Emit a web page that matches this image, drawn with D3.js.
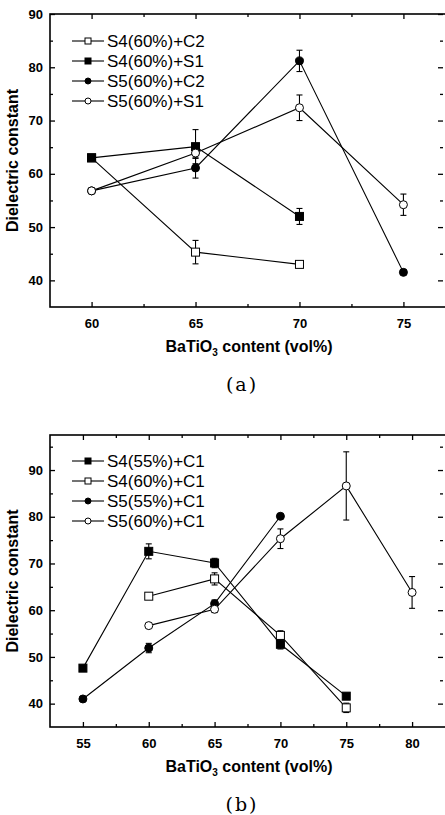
<!DOCTYPE html>
<html>
<head>
<meta charset="utf-8">
<script src="https://cdn.jsdelivr.net/npm/d3@7"></script>
<style>
  body { margin: 0; background: #fff; }
  svg { display: block; }
  .tick text { font-family: "Liberation Sans", Arial, sans-serif; font-weight: bold; font-size: 13px; fill: #000; }
  .axis-title { font-family: "Liberation Sans", Arial, sans-serif; font-weight: bold; font-size: 16px; fill: #000; }
  .legend text { font-family: "Liberation Sans", Arial, sans-serif; font-size: 17px; fill: #000; }
  .caption { font-family: "DejaVu Serif", "Liberation Serif", serif; font-size: 19px; letter-spacing: 2px; fill: #000; }
</style>
</head>
<body>
<div id="chart"></div>
<script>
// panel (a)
const xA = [60, 65, 70, 75];
const namesA = ['S4(60%)+C2', 'S4(60%)+S1', 'S5(60%)+C2', 'S5(60%)+S1'];
const a_S4_C2 = [63.0, 45.3, 43.0, null];
const a_S4_C2_err = [0, 2.2, 0.4, 0];
const a_S4_S1 = [63.0, 65.1, 52.0, null];
const a_S4_S1_err = [0.3, 3.2, 1.5, 0];
const a_S5_C2 = [56.8, 61.1, 81.2, 41.5];
const a_S5_C2_err = [0, 1.9, 2.0, 0.4];
const a_S5_S1 = [56.8, 63.9, 72.4, 54.2];
const a_S5_S1_err = [0, 1.0, 2.4, 2.0];
const ticksXA = [60, 65, 70, 75];
const ticksYA = [40, 50, 60, 70, 80, 90];

// panel (b)
const xB = [55, 60, 65, 70, 75, 80];
const namesB = ['S4(55%)+C1', 'S4(60%)+C1', 'S5(55%)+C1', 'S5(60%)+C1'];
const b_S4_55 = [47.6, 72.6, 70.1, 52.7, 41.6, null];
const b_S4_55_err = [0.4, 1.6, 1.0, 1.0, 0.5, 0];
const b_S4_60 = [null, 63.0, 66.7, 54.6, 39.1, null];
const b_S4_60_err = [0, 0.4, 1.3, 1.0, 1.0, 0];
const b_S5_55 = [41.0, 51.9, 61.4, 80.1, null, null];
const b_S5_55_err = [0, 1.0, 0.8, 0, 0, 0];
const b_S5_60 = [null, 56.7, 60.2, 75.3, 86.6, 63.8];
const b_S5_60_err = [0, 0, 0.7, 2.1, 7.3, 3.4];
const ticksXB = [55, 60, 65, 70, 75, 80];
const ticksYB = [40, 50, 60, 70, 80, 90];

const W = 445, H = 815;
const svg = d3.select('#chart').append('svg')
    .attr('width', W).attr('height', H);

// marker kind: filled/open square or circle
const drawPanel = (p) => {
    const xScale = d3.scaleLinear().domain(p.xDomain).range([p.left, p.right]);
    const yScale = d3.scaleLinear().domain(p.yDomain).range([p.bottom, p.top]);
    const g = svg.append('g');

    const addMinor = (ticks, d) => {
        const step = ticks[1] - ticks[0];
        const out = ticks.slice(0, -1).map((t, i) => (t + ticks[i + 1]) / 2);
        out.push(ticks[0] - step / 2, ticks[ticks.length - 1] + step / 2);
        return out.filter(v => v > d[0] && v < d[1]);
    };

    // axes, ticks inward
    const ax = (axis, tr, size, vals, labels) => {
        const a = axis.tickValues(vals).tickSize(size).tickPadding(labels ? 6 + size : 0);
        if (!labels) a.tickFormat('');
        const gg = g.append('g').attr('transform', tr).call(a);
        gg.select('.domain').remove();
        gg.selectAll('line').attr('stroke', '#000').attr('stroke-width', 1.3);
        return gg;
    };
    const mx = addMinor(p.ticksX, p.xDomain), my = addMinor(p.ticksY, p.yDomain);
    ax(d3.axisBottom(xScale), `translate(0,${p.bottom})`, -5, p.ticksX, true)
        .selectAll('text').attr('dy', '0.71em').attr('y', 12);
    ax(d3.axisBottom(xScale), `translate(0,${p.bottom})`, -3, mx, false);
    ax(d3.axisTop(xScale), `translate(0,${p.top})`, -5, p.ticksX, false);
    ax(d3.axisTop(xScale), `translate(0,${p.top})`, -3, mx, false);
    ax(d3.axisLeft(yScale), `translate(${p.left},0)`, -5, p.ticksY, true)
        .selectAll('text').attr('x', -7);
    ax(d3.axisLeft(yScale), `translate(${p.left},0)`, -3, my, false);
    ax(d3.axisRight(yScale), `translate(${p.right - 2},0)`, -5, p.ticksY, false);
    ax(d3.axisRight(yScale), `translate(${p.right - 2},0)`, -3, my, false);

    // frame (right side runs past the window edge)
    g.append('rect')
        .attr('x', p.left).attr('y', p.top)
        .attr('width', p.right - p.left + 4).attr('height', p.bottom - p.top)
        .attr('fill', 'none').attr('stroke', '#000').attr('stroke-width', 1.6);

    const line = d3.line()
        .defined(d => d.y != null)
        .x(d => xScale(d.x)).y(d => yScale(d.y));

    p.series.forEach(s => {
        const pts = p.x.map((x, i) => ({ x: x, y: s.values[i], e: s.err[i] }));
        g.append('path').datum(pts)
            .attr('d', line)
            .attr('fill', 'none').attr('stroke', '#000').attr('stroke-width', 1.1);
        s.pts = pts.filter(d => d.y != null);
    });

    // error bars
    p.series.forEach(s => {
        s.pts.filter(d => d.e > 0.3).forEach(d => {
            const cx = xScale(d.x), y1 = yScale(d.y + d.e), y2 = yScale(d.y - d.e);
            g.append('line').attr('x1', cx).attr('x2', cx).attr('y1', y1).attr('y2', y2)
                .attr('stroke', '#000').attr('stroke-width', 1.1);
            [y1, y2].forEach(yy => g.append('line')
                .attr('x1', cx - 3).attr('x2', cx + 3).attr('y1', yy).attr('y2', yy)
                .attr('stroke', '#000').attr('stroke-width', 1.1));
        });
    });

    const marker = (sel, kind, cx, cy, sz) => {
        const fill = kind.startsWith('filled') ? '#000' : '#fff';
        if (kind.endsWith('square')) {
            sel.append('rect').attr('x', cx - sz / 2).attr('y', cy - sz / 2)
                .attr('width', sz).attr('height', sz)
                .attr('fill', fill).attr('stroke', '#000').attr('stroke-width', 1);
        } else {
            sel.append('circle').attr('cx', cx).attr('cy', cy).attr('r', sz / 2)
                .attr('fill', fill).attr('stroke', '#000').attr('stroke-width', 1);
        }
    };

    p.series.forEach(s => {
        s.pts.forEach(d => marker(g, s.kind, xScale(d.x), yScale(d.y), 8));
    });

    // legend
    const lg = g.append('g').attr('class', 'legend');
    p.series.forEach((s, i) => {
        const ly = p.legendY + i * 20;
        lg.append('line').attr('x1', 72).attr('x2', 104).attr('y1', ly).attr('y2', ly)
            .attr('stroke', '#000').attr('stroke-width', 1.1);
        marker(lg, s.kind, 88, ly, 6);
        lg.append('text').attr('x', 107).attr('y', ly).attr('dy', '0.35em').text(s.name);
    });

    // titles
    const xt = g.append('text').attr('class', 'axis-title')
        .attr('x', 249).attr('y', p.bottom + 45)
        .attr('text-anchor', 'middle');
    xt.append('tspan').text('BaTiO');
    xt.append('tspan').attr('font-size', '10px').attr('dy', 4).text('3');
    xt.append('tspan').attr('dy', -4).text(' content (vol%)');

    g.append('text').attr('class', 'axis-title')
        .attr('transform', `translate(18,${(p.top + p.bottom) / 2}) rotate(-90)`)
        .attr('text-anchor', 'middle')
        .text('Dielectric constant');

    g.append('text').attr('class', 'caption')
        .attr('x', 242).attr('y', p.bottom + 84)
        .attr('text-anchor', 'middle')
        .text(p.caption);
};

const kinds = ['open-square', 'filled-square', 'filled-circle', 'open-circle'];
const kindsB = ['filled-square', 'open-square', 'filled-circle', 'open-circle'];

drawPanel({
    left: 50, right: 445, top: 14, bottom: 307,
    xDomain: [58, 77], yDomain: [35, 90],
    ticksX: ticksXA, ticksY: ticksYA, x: xA,
    legendY: 41, caption: '(a)',
    series: [
        { name: namesA[0], kind: kinds[0], values: a_S4_C2, err: a_S4_C2_err },
        { name: namesA[1], kind: kinds[1], values: a_S4_S1, err: a_S4_S1_err },
        { name: namesA[2], kind: kinds[2], values: a_S5_C2, err: a_S5_C2_err },
        { name: namesA[3], kind: kinds[3], values: a_S5_S1, err: a_S5_S1_err }
    ]
});

drawPanel({
    left: 50, right: 445, top: 435, bottom: 727,
    xDomain: [52.5, 82.5], yDomain: [35, 97.5],
    ticksX: ticksXB, ticksY: ticksYB, x: xB,
    legendY: 461, caption: '(b)',
    series: [
        { name: namesB[0], kind: kindsB[0], values: b_S4_55, err: b_S4_55_err },
        { name: namesB[1], kind: kindsB[1], values: b_S4_60, err: b_S4_60_err },
        { name: namesB[2], kind: kindsB[2], values: b_S5_55, err: b_S5_55_err },
        { name: namesB[3], kind: kindsB[3], values: b_S5_60, err: b_S5_60_err }
    ]
});
</script>
</body>
</html>
